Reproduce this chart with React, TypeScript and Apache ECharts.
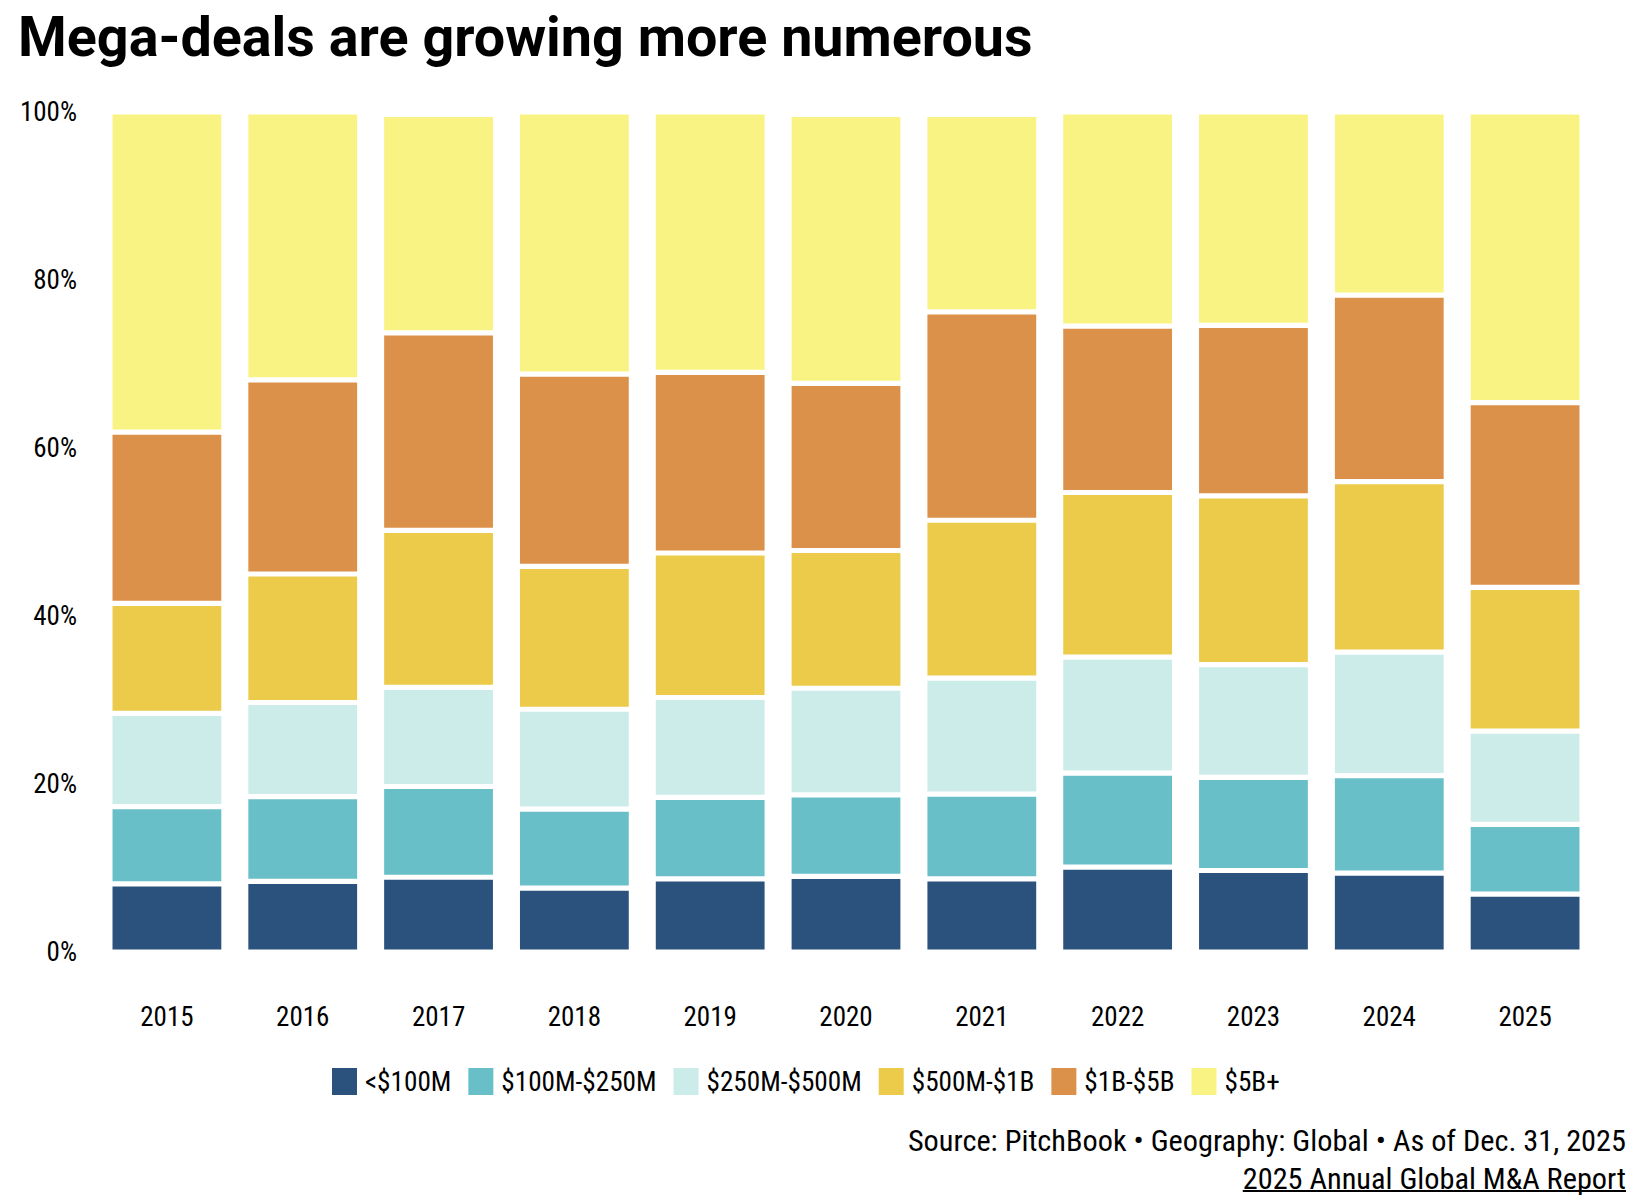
import React, { useEffect, useRef } from "react";
import * as echarts from "echarts";

const years = ["2015", "2016", "2017", "2018", "2019", "2020", "2021", "2022", "2023", "2024", "2025"];
const seriesNames = ["<$100M", "$100M-$250M", "$250M-$500M", "$500M-$1B", "$1B-$5B", "$5B+"];
const under100M = [8.1, 8.4, 8.9, 7.6, 8.7, 9.0, 8.7, 10.1, 9.7, 9.4, 6.9];
const m100to250 = [9.2, 10.1, 10.8, 9.4, 9.7, 9.7, 10.1, 11.2, 11.1, 11.6, 8.3];
const m250to500 = [11.1, 11.2, 11.8, 11.9, 11.9, 12.7, 13.8, 13.8, 13.4, 14.7, 11.1];
const m500to1B = [13.1, 15.3, 18.7, 17.0, 17.2, 16.4, 18.8, 19.6, 20.1, 20.3, 17.1];
const b1to5 = [20.4, 23.1, 23.5, 22.9, 21.5, 19.9, 24.8, 19.8, 20.3, 22.2, 22.0];
const b5plus = [38.1, 31.9, 26.0, 31.2, 31.0, 32.0, 23.5, 25.5, 25.4, 21.8, 34.6];
const yTicks = [0, 20, 40, 60, 80, 100];
const colors = ["#2B517D", "#69BFC8", "#CCECEA", "#EDCB4A", "#DC914A", "#F9F383"];

const titleText = "Mega-deals are growing more numerous";
const sourceText = "Source: PitchBook • Geography: Global • As of Dec. 31, 2025";
const reportText = "2025 Annual Global M&A Report";

const FONT = "'Roboto Condensed', 'Liberation Sans Narrow', 'DejaVu Sans Condensed', Roboto, sans-serif";

function measure(text: string, font: string): number {
  const c = document.createElement("canvas");
  const ctx = c.getContext("2d");
  if (!ctx) return text.length * 13;
  ctx.font = font;
  return ctx.measureText(text).width;
}

export default function App() {
  const ref = useRef<HTMLDivElement>(null);
  useEffect(() => {
    if (!ref.current) return;
    const chart = echarts.init(ref.current, undefined, { renderer: "svg" });
    const values = [under100M, m100to250, m250to500, m500to1B, b1to5, b5plus];
    const reportW = measure(reportText, `30.3px ${FONT}`);
    const option: any = {
      animation: false,
      backgroundColor: "#ffffff",
      title: {
        text: titleText,
        left: 18,
        top: 9,
        padding: 0,
        textStyle: { fontFamily: "Roboto, sans-serif", fontWeight: 700, fontSize: 55.7, color: "#000" },
      },
      grid: { left: 99, right: 49, top: 112, bottom: 252 },
      legend: {
        data: seriesNames,
        left: 330,
        top: 1066,
        padding: 0,
        itemWidth: 27,
        itemHeight: 29,
        itemGap: 15,
        icon: "rect",
        textStyle: { fontFamily: FONT, fontSize: 27.2, color: "#000", padding: [0, 0, 0, 2] },
      },
      xAxis: {
        type: "category",
        data: years,
        axisLine: { show: false },
        axisTick: { show: false },
        axisLabel: { fontFamily: FONT, fontSize: 27, color: "#000", margin: 51 },
      },
      yAxis: {
        type: "value",
        min: 0,
        max: 100,
        interval: 20,
        splitLine: { show: false },
        axisLine: { show: false },
        axisTick: { show: false },
        axisLabel: {
          fontFamily: FONT,
          fontSize: 27,
          color: "#000",
          margin: 22,
          formatter: (v: number) => (yTicks.includes(v) ? `${v}%` : ""),
        },
      },
      series: seriesNames.map((name, i) => ({
        name,
        type: "bar",
        stack: "total",
        data: values[i],
        barWidth: 114,
        itemStyle: { color: colors[i], borderColor: "#ffffff", borderWidth: 2.6 },
      })),
      graphic: [
        {
          type: "text",
          x: 1626,
          y: 1140,
          style: { text: sourceText, font: `30.3px ${FONT}`, fill: "#000", align: "right", verticalAlign: "middle" },
        },
        {
          type: "text",
          x: 1626,
          y: 1178,
          style: { text: reportText, font: `30.3px ${FONT}`, fill: "#000", align: "right", verticalAlign: "middle" },
        },
        {
          type: "line",
          shape: { x1: 1626 - reportW, y1: 1191, x2: 1626, y2: 1191 },
          style: { stroke: "#000", lineWidth: 1.8 },
        },
      ],
    };
    chart.setOption(option);
    return () => chart.dispose();
  }, []);
  return (
    <div
      ref={ref}
      style={{ position: "absolute", left: 0, top: 0, width: 1642, height: 1204 }}
    />
  );
}
